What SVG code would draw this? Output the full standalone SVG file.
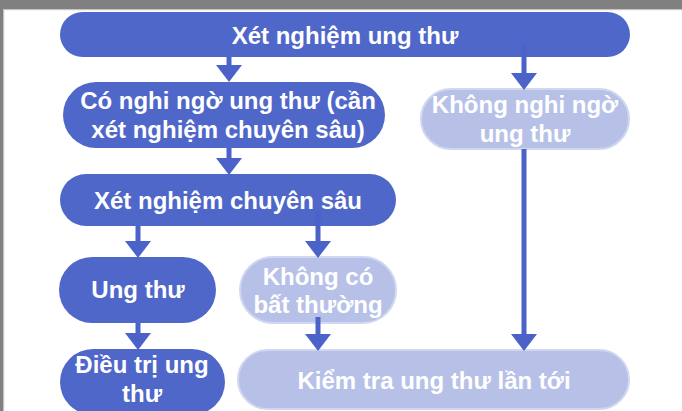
<svg xmlns="http://www.w3.org/2000/svg" width="682" height="411" viewBox="0 0 682 411">
  <style>
    .dark { fill: #4f67c9; }
    .light { fill: #b7c1e8; stroke: #d0d7f1; stroke-width: 2; }
    .label { font-family: "Liberation Sans", Arial, sans-serif; font-weight: bold; font-size: 24px; fill: #ffffff; text-anchor: middle; }
    .link { stroke: #4b63c8; stroke-width: 5; fill: none; marker-end: url(#head); }
  </style>
  <defs>
    <marker id="head" viewBox="0 -13 17 26" refX="0" refY="0" markerWidth="17" markerHeight="26" markerUnits="userSpaceOnUse" orient="auto">
      <path d="M0,-13 L17,0 L0,13 z" fill="#4b63c8"/>
    </marker>
  </defs>

  <!-- window frame -->
  <rect x="0" y="0" width="682" height="411" fill="#ffffff"/>
  <rect x="0" y="0" width="682" height="9" fill="#808080"/>
  <rect x="0" y="9" width="682" height="1.2" fill="#c4c4c4"/>
  <rect x="0" y="0" width="3" height="411" fill="#808080"/>
  <rect x="3" y="10" width="1.2" height="401" fill="#c4c4c4"/>

  <g id="n-screening">
    <rect class="dark" x="60" y="12" width="570" height="45" rx="22.5"/>
    <text class="label" x="345" y="44">Xét nghiệm ung thư</text>
  </g>

  <g id="n-suspected">
    <rect class="dark" x="63" y="82" width="322" height="66" rx="33"/>
    <text class="label" x="228" y="109">Có nghi ngờ ung thư (cần</text>
    <text class="label" x="228" y="138">xét nghiệm chuyên sâu)</text>
  </g>

  <g id="n-not-suspected">
    <rect class="light" x="421" y="89" width="208" height="60" rx="30"/>
    <text class="label" x="525" y="113">Không nghi ngờ</text>
    <text class="label" x="525" y="142">ung thư</text>
  </g>

  <g id="n-detailed">
    <rect class="dark" x="60" y="174" width="336" height="52" rx="26"/>
    <text class="label" x="228" y="209">Xét nghiệm chuyên sâu</text>
  </g>

  <g id="n-cancer">
    <rect class="dark" x="59" y="257" width="157" height="66" rx="33"/>
    <text class="label" x="138" y="298">Ung thư</text>
  </g>

  <g id="n-normal">
    <rect class="light" x="240" y="257" width="156" height="66" rx="33"/>
    <text class="label" x="318" y="285">Không có</text>
    <text class="label" x="318" y="313">bất thường</text>
  </g>

  <g id="n-treatment">
    <rect class="dark" x="60" y="349" width="165" height="66" rx="33"/>
    <text class="label" x="142" y="373">Điều trị ung</text>
    <text class="label" x="142" y="402">thư</text>
  </g>

  <g id="n-next-check">
    <rect class="light" x="238" y="350" width="391" height="59" rx="29.5"/>
    <text class="label" x="434" y="389">Kiểm tra ung thư lần tới</text>
  </g>

  <g id="connectors">
    <line class="link" x1="229" y1="57" x2="229" y2="65"/>
    <line class="link" x1="524" y1="45" x2="524" y2="73"/>
    <line class="link" x1="229" y1="148" x2="229" y2="158"/>
    <line class="link" x1="138" y1="226" x2="138" y2="241"/>
    <line class="link" x1="318" y1="211" x2="318" y2="241"/>
    <line class="link" x1="138" y1="323" x2="138" y2="333"/>
    <line class="link" x1="318" y1="317" x2="318" y2="334"/>
    <line class="link" x1="524" y1="149" x2="524" y2="334"/>
  </g>
</svg>
